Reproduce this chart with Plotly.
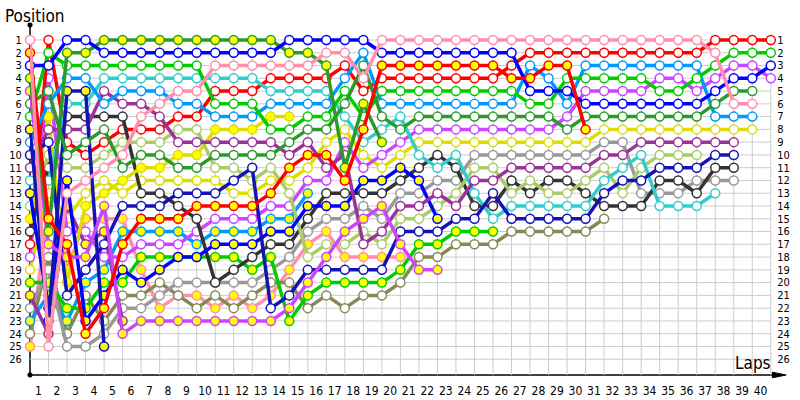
import plotly.graph_objects as go

N = None
laps = list(range(41))

pink_w   = [1,25,13,12,11,10,7,6,5,5, 3,3,3,3,3,3,2,2,4,1, 1,1,1,1,1,1,1,1,1,1, 1,1,1,1,1,1,1,2,6,6, N]
red_y    = [2,15,17,24,22,17,15,15,15,14, 14,14,14,13,11,10,10,12,8,3, 3,3,3,3,3,3,4,4,3,3, 8] + [N]*10
blue_w   = [3,3,1,1,2,2,2,2,2,2, 2,2,2,2,1,1,1,1,1,2, 2,2,2,2,2,2,2,5,5,5, 6,6,6,6,6,6,6,5,4,4, 3]
dgreen_y = [4,16,2,2,1,1,1,1,1,1, 1,1,1,1,2,2,3,11,6,9] + [N]*21
violet_y = [5,17,18,18,14,24,23,23,23,23, 23,23,23,23,22,20,18,16,15,14, 17,19,19] + [N]*18
dgreen_w = [6,5,10,9,8,11,10,10,11,11, 10,10,10,10,9,8,8,6,3,7, 8,7,7,7,7,7,7,7,7,8, 7,7,7,7,7,7,7,6,5,5, N]
bgreen_w = [7,2,3,3,3,3,3,3,3,3, 6,6,6,8,8,7,7,5,7,5, 5,5,5,5,5,5,5,6,6,4, 4,4,4,4,5,5,4,3,2,2, 2]
navy_y   = [8,23,5,5,25] + [N]*36
sky_w    = [9,6,4,4,6,5,5,5,6,6, 7,7,7,6,6,6,6,4,2,6, 6,6,6,6,6,6,6,3,4,6, 3,3,3,3,3,3,3,7,7,7, N]
navy_w   = [10,9,21,19,17,14,14,14,13,13, 13,12,11,22,21,19,19,19,19,19, 16,16,16,15,15,13,15,15,15,15, 15,13,12,12,11,11,11,10,10, N, N]
purple_w = [11,8,8,8,5,6,6,7,9,9, 9,9,9,9,10,9,11,10,17,16, 14,14,13,14,12,12,11,11,11,11, 11,10,10,9,9,9,9,9,9, N, N]
cyan_w   = [12,12,6,6,4,4,4,4,4,4, 4,4,4,5,5,5,5,7,9,8, 7,10,11,10,13,15,14,14,14,14, 14,12,11,10,14,14,14,13, N, N, N]
blue_y   = [13,22,12,23,21,19,20,19,18,18, 17,17,17,16,16,14,14,14,12,12, 11,12,15] + [N]*18
lgreen_w = [14,10,11,11,10,9,9,9,8,8, 11,11,12,11,13,18,17,17,16,17, 15,15,14,13,11,11,13,12,13,13, 12,11,13,11,10,10,10] + [N]*4
yellow_y = [15,7,20,14,13,12,11,11,10,10, 8,8,8,7,7] + [N]*26
dgray_w  = [16,11,7,7,7,7,13,13,14,15, 20,19,18,17,17,15,13,13,13,13, 12,11,10,11,14,14,12,13,12,12, 13,14,14,14,12,12,13,11,11, N, N]
red_w    = [17,1,9,10,9,8,8,8,7,7, 5,5,5,4,4,4,4,3,5,4, 4,4,4,4,4,4,3,2,2,2, 2,2,2,2,2,2,2,1,1,1, 1]
violet_w = [18,4,16,16,18,18,17,17,17,16, 15,15,15,14,14,12,12,9,11,10, 9,8,8,8,8,8,8,8,8,7, 5,5,5,5,4,4,5,4,3,3, 4]
yellow_w = [19,13,15,13,12,13,12,12,12,12, 12,13,13,12,12,11,9,8,10,11, 10,9,9,9,9,9,9,9,9,9, 9,8,8,8,8,8,8,8,8,8, N]
bgreen_y = [20,20,22,22,20,20,18,18,18,18, 18,18,19,18,23,21,20,20,20,20, 19,17,17,16,16,16] + [N]*15
purple_y = [21,24,14,17,16,23] + [N]*35
gray_w   = [22,19,25,25,24,22,22,21,20,20, 20,20,20,19,18,16,15,15,14,15, 13,13,12,12,10,10,10,10,10,10, 10,9,9,13,13,13,12,12,12, N, N]
sky_y    = [23,21,23,20,19,16,16,16,16,17, 16,16,16,15,15,13] + [N]*25
olive_w  = [24,18,24,21,23,21,21,20,21,22, 21,22,21,20,20,22,21,22,21,21, 20,18,18,17,17,17,16,16,16,16, 16,15] + [N]*9
pink_y   = [25,14,19,15,15,15,19,22,21,21, 22,21,22,21,19,17,16,18,18,18, 18] + [N]*20

positions = list(range(1, 27))
lap_labels = [str(i) for i in range(1, 41)]

PINK, RED, BLUE, DGREEN = '#ff8fab', '#ff0000', '#0000ff', '#2a9a2a'
VIOLET, BGREEN, NAVY, SKY = '#cc44ff', '#00cc00', '#1414b4', '#0099ff'
PURPLE, CYAN, LGREEN, YELLOW = '#993399', '#33cccc', '#aacc66', '#dddd00'
DGRAY, GRAY, OLIVE = '#333333', '#999999', '#888855'
W, Y = '#ffffff', '#ffff00'

drivers = [
    (pink_y, PINK, Y), (olive_w, OLIVE, W), (sky_y, SKY, Y), (gray_w, GRAY, W),
    (purple_y, PURPLE, Y), (bgreen_y, BGREEN, Y), (yellow_w, YELLOW, W),
    (violet_w, VIOLET, W), (red_w, RED, W), (dgray_w, DGRAY, W), (yellow_y, YELLOW, Y),
    (lgreen_w, LGREEN, W), (blue_y, BLUE, Y), (cyan_w, CYAN, W), (purple_w, PURPLE, W),
    (navy_w, NAVY, W), (sky_w, SKY, W), (navy_y, NAVY, Y), (bgreen_w, BGREEN, W),
    (dgreen_w, DGREEN, W), (violet_y, VIOLET, Y), (dgreen_y, DGREEN, Y),
    (blue_w, BLUE, W), (red_y, RED, Y), (pink_w, PINK, W),
]

fig = go.Figure()
for vals, col, fill in drivers:
    fig.add_trace(go.Scatter(
        x=laps, y=vals, mode='lines+markers',
        line=dict(color=col, width=3.5),
        marker=dict(size=9, color=fill, line=dict(color=col, width=1.5)),
        cliponaxis=False, showlegend=False, hoverinfo='skip'))

YTOP, YBOT = -0.175, 27.235
XMAX = 40.065
shapes = []
for p in positions:
    shapes.append(dict(type='line', xref='x', yref='y', x0=0, x1=40, y0=p, y1=p,
                       line=dict(color='#cccccc', width=1), layer='below'))
for l in range(1, 41):
    shapes.append(dict(type='line', xref='x', yref='y', x0=l, x1=l, y0=0.85, y1=YBOT,
                       line=dict(color='#cccccc', width=1), layer='below'))
# axes
shapes.append(dict(type='line', xref='paper', yref='paper', x0=0, x1=0, y0=0, y1=1,
                   line=dict(color='black', width=1.5), layer='below'))
shapes.append(dict(type='line', xref='paper', yref='paper', x0=0, x1=1.005, y0=0, y1=0,
                   line=dict(color='black', width=1.5), layer='below'))
shapes.append(dict(type='path', xref='paper', yref='paper',
                   path='M 1.0005 0.008 L 1.019 0 L 1.0005 -0.008 Z',
                   fillcolor='black', line=dict(color='black', width=1)))
shapes.append(dict(type='circle', xref='paper', yref='paper',
                   x0=-0.0035, x1=0.0035, y0=0.993, y1=1.007,
                   fillcolor='black', line=dict(color='black', width=0)))
shapes.append(dict(type='circle', xref='paper', yref='paper',
                   x0=-0.0035, x1=0.0035, y0=-0.007, y1=0.007,
                   fillcolor='black', line=dict(color='black', width=0)))

FONT = 'DejaVu Sans Condensed, DejaVu Sans, sans-serif'
fig.update_layout(
    width=800, height=400,
    margin=dict(l=30, r=28, t=25, b=25, autoexpand=False),
    paper_bgcolor='white', plot_bgcolor='white',
    font=dict(family=FONT, color='black'),
    hovermode=False,
    shapes=shapes,
    xaxis=dict(range=[0, XMAX], showgrid=False, zeroline=False, showline=False,
               automargin=False, fixedrange=True,
               tickvals=[i - 0.55 for i in range(1, 41)], ticktext=lap_labels,
               ticks='outside', ticklen=5, tickcolor='rgba(0,0,0,0)',
               tickfont=dict(size=12, family=FONT, color='black')),
    yaxis=dict(range=[YBOT, YTOP], showgrid=False, zeroline=False, showline=False,
               automargin=False, fixedrange=True,
               tickvals=positions, ticktext=[str(p) for p in positions],
               ticks='outside', ticklen=5, tickcolor='rgba(0,0,0,0)',
               tickfont=dict(size=11, family=FONT, color='black')),
    yaxis2=dict(range=[YBOT, YTOP], overlaying='y', side='right', anchor='x',
                automargin=False, fixedrange=True,
                showgrid=False, zeroline=False, showline=False,
                tickvals=positions, ticktext=[str(p) for p in positions],
                ticks='outside', ticklen=2, tickcolor='rgba(0,0,0,0)',
                tickfont=dict(size=11, family=FONT, color='black')),
    annotations=[
        dict(text='Position', xref='paper', yref='paper', x=-0.036, y=1.026,
             xanchor='left', yanchor='middle', showarrow=False,
             font=dict(size=17, family=FONT, color='black')),
        dict(text='Laps', xref='paper', yref='paper', x=1.002, y=0.033,
             xanchor='right', yanchor='middle', showarrow=False,
             font=dict(size=17, family=FONT, color='black')),
    ],
)
# invisible trace to show the right-hand axis
fig.add_trace(go.Scatter(x=[0], y=[1], yaxis='y2', mode='markers',
                         marker=dict(opacity=0), showlegend=False, hoverinfo='skip'))

fig.write_html('out.html', config={'displayModeBar': False, 'staticPlot': True},
               post_script="document.body.style.margin='0';document.body.style.padding='0';document.body.style.overflow='hidden';")
